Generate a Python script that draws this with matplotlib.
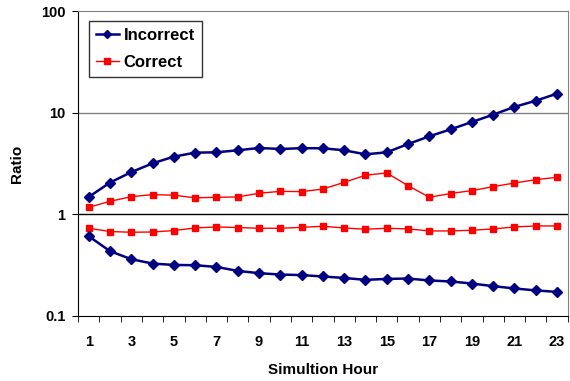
import matplotlib
matplotlib.use('Agg')
import matplotlib.pyplot as plt
from matplotlib.ticker import FixedLocator, NullLocator, FixedFormatter

plt.rcParams['font.family'] = ['Liberation Sans', 'DejaVu Sans']
plt.rcParams['font.weight'] = 'bold'

# Данные
hours = list(range(1, 24))
incorrect_hi = [1.48, 2.05, 2.6, 3.17, 3.69, 4.04, 4.07, 4.26, 4.49, 4.39, 4.47, 4.46,
                4.26, 3.89, 4.07, 4.91, 5.85, 6.85, 8.09, 9.56, 11.4, 13.1, 15.4]
correct_hi = [1.17, 1.34, 1.49, 1.56, 1.54, 1.45, 1.47, 1.48, 1.61, 1.68, 1.67, 1.77,
              2.06, 2.42, 2.55, 1.91, 1.47, 1.60, 1.71, 1.87, 2.03, 2.19, 2.31]
correct_lo = [0.728, 0.676, 0.665, 0.669, 0.691, 0.733, 0.750, 0.740, 0.728, 0.728, 0.743,
              0.762, 0.733, 0.712, 0.728, 0.717, 0.685, 0.685, 0.696, 0.717, 0.750, 0.767, 0.767]
incorrect_lo = [0.608, 0.433, 0.361, 0.327, 0.317, 0.315, 0.303, 0.277, 0.263, 0.255, 0.252,
                0.244, 0.236, 0.226, 0.231, 0.233, 0.223, 0.218, 0.208, 0.196, 0.186, 0.178, 0.172]
y_ticks = [0.1, 1, 10, 100]
y_labels = ['0.1', '1', '10', '100']
x_labels = [str(h) for h in hours]

NAVY = '#000080'
RED = '#FF0000'

fig = plt.figure(figsize=(5.7, 3.81), dpi=100)
ax = fig.add_axes([0.137, 0.171, 0.859, 0.800])
ax.set_yscale('log')
ax.set_ylim(0.1, 100)
ax.set_xlim(0.5, 23.5)

# сетка
ax.axhline(10, color='#808080', lw=1, zorder=1)
ax.axhline(1, color='black', lw=1, zorder=1)

ax.plot(hours, incorrect_hi, color=NAVY, lw=1.8, marker='D', ms=5, label='Incorrect', zorder=3)
ax.plot(hours, correct_hi, color=RED, lw=1.0, marker='s', ms=5, label='Correct', zorder=3)
ax.plot(hours, correct_lo, color=RED, lw=1.0, marker='s', ms=5, zorder=3)
ax.plot(hours, incorrect_lo, color=NAVY, lw=1.8, marker='D', ms=5, zorder=3)

# оси
ax.yaxis.set_major_locator(FixedLocator(y_ticks))
ax.yaxis.set_major_formatter(FixedFormatter(y_labels))
ax.yaxis.set_minor_locator(NullLocator())
ax.set_xticks(hours[::2])
ax.set_xticklabels(x_labels[::2])
ax.set_xticks([h + 0.5 for h in [0] + hours], minor=True)
ax.tick_params(axis='x', which='major', length=0, pad=14, labelsize=10.5)
ax.tick_params(axis='x', which='minor', length=4, direction='out')
ax.tick_params(axis='y', which='major', length=4, direction='out', labelsize=10.5, pad=5)
for lab in ax.get_xticklabels() + ax.get_yticklabels():
    lab.set_fontweight('bold')

ax.spines['top'].set_color('#808080')
ax.spines['right'].set_color('#808080')
ax.set_xlabel('Simultion Hour', fontsize=11, fontweight='bold', labelpad=10)
ax.set_ylabel('Ratio', fontsize=11, fontweight='bold', labelpad=12)

leg = ax.legend(loc='upper left', bbox_to_anchor=(0.022, 0.967), frameon=True, fancybox=False,
                edgecolor='black', fontsize=12, handlelength=1.4, borderpad=0.4,
                labelspacing=0.75, handletextpad=0.3, borderaxespad=0, markerscale=0.75)
leg.get_frame().set_linewidth(1.0)
for t in leg.get_texts():
    t.set_fontweight('bold')

fig.savefig('out.png', dpi=100)
